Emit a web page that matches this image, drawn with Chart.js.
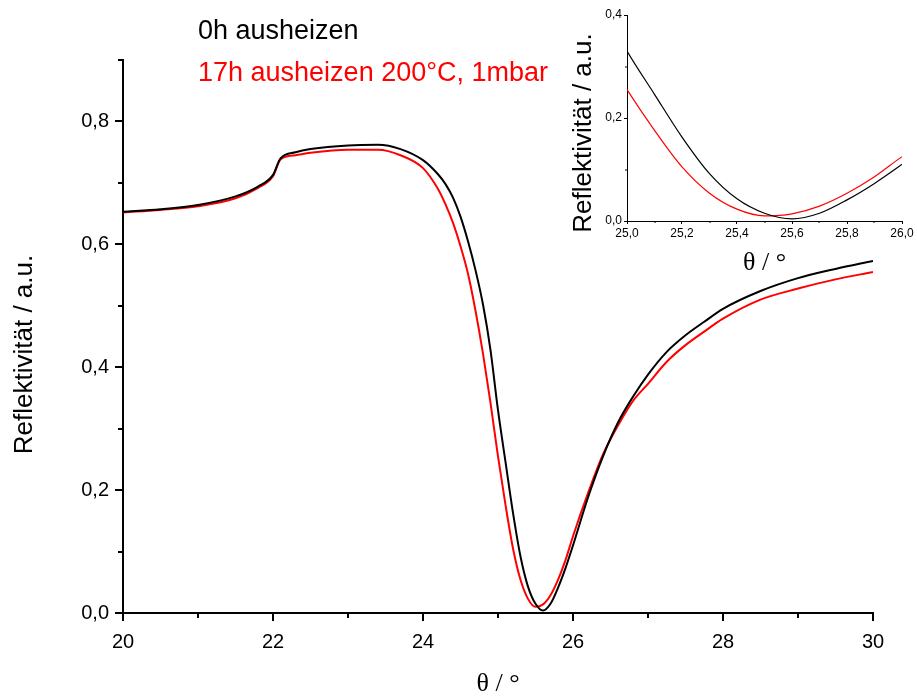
<!DOCTYPE html>
<html>
<head>
<meta charset="utf-8">
<script src="https://cdn.jsdelivr.net/npm/chart.js@4.4.0/dist/chart.umd.min.js"></script>
<style>
    body { margin: 0; background: #fff; }
    #wrap { position: relative; width: 917px; height: 697px; overflow: hidden; }
    #mainChart { position: absolute; left: 0; top: 0; }
    #insetChart { position: absolute; left: 560px; top: 0; }
    .legend {
        position: absolute;
        left: 198px;
        font-family: 'Liberation Sans', Arial, sans-serif;
        font-size: 27px;
        line-height: 30px;
        white-space: nowrap;
    }
</style>
</head>
<body>
<div id="wrap">
    <canvas id="mainChart" width="917" height="697"></canvas>
    <canvas id="insetChart" width="357" height="280"></canvas>
    <div class="legend" style="top: 15px; color: #000;">0h ausheizen</div>
    <div class="legend" style="top: 57px; color: #f00;">17h ausheizen 200°C, 1mbar</div>
</div>
<script>
// angle in degrees
const theta = [20.0, 20.5, 21.0, 21.5, 21.8, 22.0, 22.1, 22.3, 22.5, 23.0, 23.4, 23.7, 24.0, 24.2, 24.3,
    24.4, 24.5, 24.6, 24.7, 24.8, 24.9, 25.0, 25.1, 25.2, 25.3, 25.4, 25.5, 25.6, 25.7, 25.8,
    25.9, 26.0, 26.2, 26.4, 26.6, 26.8, 27.0, 27.25, 27.5, 27.75, 28.0, 28.5, 29.0, 29.5, 30.0];

// 0h ausheizen (black)
const refl0h = [0.653, 0.657, 0.664, 0.678, 0.694, 0.713, 0.740, 0.750, 0.755, 0.761, 0.762, 0.755, 0.737, 0.714, 0.698,
    0.676, 0.645, 0.605, 0.558, 0.502, 0.428, 0.330, 0.246, 0.163, 0.092, 0.043, 0.015, 0.004, 0.015, 0.041,
    0.073, 0.110, 0.188, 0.255, 0.310, 0.352, 0.388, 0.425, 0.452, 0.474, 0.495, 0.524, 0.545, 0.560, 0.573];

// 17h ausheizen 200°C, 1mbar (red)
const refl17h = [0.652, 0.656, 0.662, 0.675, 0.692, 0.711, 0.738, 0.745, 0.749, 0.754, 0.754, 0.745, 0.724, 0.690, 0.665,
    0.635, 0.597, 0.552, 0.492, 0.422, 0.342, 0.255, 0.176, 0.105, 0.054, 0.023, 0.010, 0.014, 0.029, 0.054,
    0.086, 0.125, 0.195, 0.258, 0.305, 0.345, 0.373, 0.409, 0.436, 0.458, 0.479, 0.510, 0.528, 0.543, 0.555];

const mainXTicks = [20, 22, 24, 26, 28, 30];
const mainXMinor = [21, 23, 25, 27, 29];
const mainYTicks = [0.0, 0.2, 0.4, 0.6, 0.8];
const mainYMinor = [0.1, 0.3, 0.5, 0.7, 0.9];

const insetXTicks = [25.0, 25.2, 25.4, 25.6, 25.8, 26.0];
const insetXMinor = [25.1, 25.3, 25.5, 25.7, 25.9];
const insetYTicks = [0.0, 0.2, 0.4];
const insetYMinor = [0.1, 0.3];

const sans = "'Liberation Sans', Arial, sans-serif";
const serif = "'Liberation Serif', 'Times New Roman', serif";

function toPoints(xs, ys) {
    return xs.map((x, i) => ({ x: x, y: ys[i] }));
}

function komma(v) {
    return Number(v).toFixed(1).replace('.', ',');
}

// minor ticks and axis titles
const axisDecor = {
    id: 'axisDecor',
    afterDraw(chart, args, opts) {
        const ctx = chart.ctx;
        const { left, right, top, bottom } = chart.chartArea;
        const xs = chart.scales.x;
        const ys = chart.scales.y;
        ctx.save();
        ctx.strokeStyle = '#000';
        ctx.lineWidth = opts.lineWidth;
        ctx.beginPath();
        opts.xMinor.forEach(v => {
            const px = Math.round(xs.getPixelForValue(v));
            ctx.moveTo(px, bottom);
            ctx.lineTo(px, bottom + opts.minorLen);
        });
        opts.yMinor.forEach(v => {
            const py = Math.round(ys.getPixelForValue(v));
            ctx.moveTo(left, py);
            ctx.lineTo(left - opts.minorLen, py);
        });
        ctx.stroke();

        ctx.fillStyle = '#000';
        ctx.textAlign = 'center';
        ctx.textBaseline = 'middle';
        ctx.font = opts.xTitleFont;
        ctx.fillText(opts.xTitle, (left + right) / 2, bottom + opts.xTitleDy);
        ctx.translate(left - opts.yTitleDx, (top + bottom) / 2 + opts.yTitleDy);
        ctx.rotate(-Math.PI / 2);
        ctx.font = opts.yTitleFont;
        ctx.fillText(opts.yTitle, 0, 0);
        ctx.restore();
    }
};

function makeScales(cfg) {
    return {
        x: {
            type: 'linear',
            min: cfg.xMin,
            max: cfg.xMax,
            afterFit: s => { s.height = cfg.xHeight; },
            afterBuildTicks: s => { s.ticks = cfg.xTicks.map(v => ({ value: v })); },
            border: { display: true, color: '#000', width: cfg.axisWidth },
            grid: {
                drawOnChartArea: false,
                drawTicks: true,
                tickLength: cfg.tickLen,
                color: '#000',
                tickColor: '#000',
                lineWidth: cfg.axisWidth
            },
            ticks: {
                color: '#000',
                padding: cfg.xPad,
                maxRotation: 0,
                autoSkip: false,
                font: { family: sans, size: cfg.tickFont },
                callback: cfg.xFmt
            }
        },
        y: {
            type: 'linear',
            min: cfg.yMin,
            max: cfg.yMax,
            afterFit: s => { s.width = cfg.yWidth; },
            afterBuildTicks: s => { s.ticks = cfg.yTicks.map(v => ({ value: v })); },
            border: { display: true, color: '#000', width: cfg.axisWidth },
            grid: {
                drawOnChartArea: false,
                drawTicks: true,
                tickLength: cfg.tickLen,
                color: '#000',
                tickColor: '#000',
                lineWidth: cfg.axisWidth
            },
            ticks: {
                color: '#000',
                padding: cfg.yPad,
                autoSkip: false,
                font: { family: sans, size: cfg.tickFont },
                callback: v => komma(v)
            }
        }
    };
}

function makeDatasets(width) {
    return [
        {
            label: '0h ausheizen',
            data: toPoints(theta, refl0h),
            borderColor: '#000000',
            borderWidth: width,
            pointRadius: 0,
            cubicInterpolationMode: 'monotone',
            fill: false
        },
        {
            label: '17h ausheizen 200°C, 1mbar',
            data: toPoints(theta, refl17h),
            borderColor: '#ff0000',
            borderWidth: width,
            pointRadius: 0,
            cubicInterpolationMode: 'monotone',
            fill: false
        }
    ];
}

const mainChart = new Chart(document.getElementById('mainChart').getContext('2d'), {
    type: 'line',
    data: { datasets: makeDatasets(2) },
    options: {
        responsive: false,
        animation: false,
        layout: { padding: { top: 60, right: 44, left: 0, bottom: 0 } },
        plugins: {
            legend: { display: false },
            tooltip: { enabled: false },
            axisDecor: {
                lineWidth: 2, minorLen: 5,
                xMinor: mainXMinor, yMinor: mainYMinor,
                xTitle: 'θ / °', xTitleFont: '26px ' + serif, xTitleDy: 71,
                yTitle: 'Reflektivität / a.u.', yTitleFont: '26px ' + sans, yTitleDx: 98, yTitleDy: 18
            }
        },
        scales: makeScales({
            xMin: 20, xMax: 30, yMin: 0, yMax: 0.9,
            xTicks: mainXTicks, yTicks: mainYTicks,
            xHeight: 84, yWidth: 123, axisWidth: 2, tickLen: 8,
            xPad: 9, yPad: 6, tickFont: 20,
            xFmt: v => String(v)
        })
    },
    plugins: [axisDecor]
});

const insetChart = new Chart(document.getElementById('insetChart').getContext('2d'), {
    type: 'line',
    data: { datasets: makeDatasets(1.2) },
    options: {
        responsive: false,
        animation: false,
        layout: { padding: { top: 15, right: 15, left: 0, bottom: 0 } },
        plugins: {
            legend: { display: false },
            tooltip: { enabled: false },
            axisDecor: {
                lineWidth: 1, minorLen: 2,
                xMinor: insetXMinor, yMinor: insetYMinor,
                xTitle: 'θ / °', xTitleFont: '26px ' + serif, xTitleDy: 42,
                yTitle: 'Reflektivität / a.u.', yTitleFont: '26px ' + sans, yTitleDx: 43, yTitleDy: 15
            }
        },
        scales: makeScales({
            xMin: 25, xMax: 26, yMin: 0, yMax: 0.4,
            xTicks: insetXTicks, yTicks: insetYTicks,
            xHeight: 59, yWidth: 67, axisWidth: 1, tickLen: 3,
            xPad: 2, yPad: 2, tickFont: 12,
            xFmt: v => komma(v)
        })
    },
    plugins: [axisDecor]
});
</script>
</body>
</html>
